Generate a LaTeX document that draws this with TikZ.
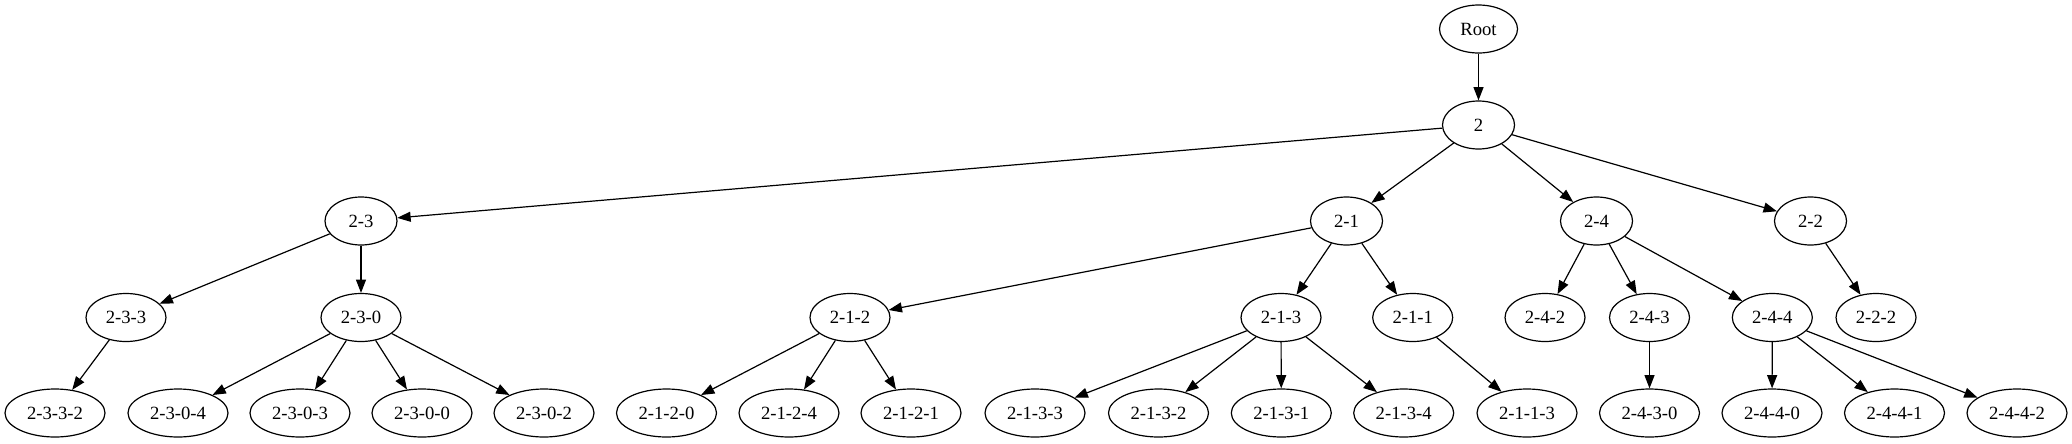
\documentclass[tikz,border=0pt]{standalone}
\usepackage{fontspec}
\setmainfont{Liberation Serif}
\usetikzlibrary{shapes,arrows.meta}
\tikzstyle{vertex}=[ellipse,
                    draw,
                    line width=0.9pt,
                    inner sep=0pt,
                    minimum width=54pt,
                    minimum height=36pt,
                    font=\fontsize{14}{16}\selectfont]
\tikzstyle{inner}=[vertex, minimum width=60pt]
\tikzstyle{leaf}=[vertex, minimum width=75pt]

\begin{document}
\begin{tikzpicture}[x=0.75pt,y=-0.75pt,>={Triangle[length=10pt,width=7.5pt]}]
    \useasboundingbox (0,0) rectangle (2072,443);
    % top of the tree
    \node[vertex, minimum width=58.5pt] (root) at (1478.5,29) {Root};
    \node[vertex] (n2) at (1478.5,125) {2};
    \node[vertex] (n23) at (361,221) {2-3};
    \node[vertex] (n21) at (1346.5,221) {2-1};
    \node[vertex] (n24) at (1596.5,221) {2-4};
    \node[vertex] (n22) at (1810.5,221) {2-2};
    % third level
    \node[inner] (n233) at (126,317.5) {2-3-3};
    \node[inner] (n230) at (361,317.5) {2-3-0};
    \node[inner] (n212) at (850,317.5) {2-1-2};
    \node[inner] (n213) at (1281,317.5) {2-1-3};
    \node[inner] (n211) at (1412.7,317.5) {2-1-1};
    \node[inner] (n242) at (1545,317.5) {2-4-2};
    \node[inner] (n243) at (1649.5,317.5) {2-4-3};
    \node[inner] (n244) at (1772.3,317.5) {2-4-4};
    \node[inner] (n222) at (1876,317.5) {2-2-2};
    % leaves
    \node[leaf] (n2332) at (55,413) {2-3-3-2};
    \node[leaf] (n2304) at (178,413) {2-3-0-4};
    \node[leaf] (n2303) at (300,413) {2-3-0-3};
    \node[leaf] (n2300) at (422,413) {2-3-0-0};
    \node[leaf] (n2302) at (544,413) {2-3-0-2};
    \node[leaf] (n2120) at (666.5,413) {2-1-2-0};
    \node[leaf] (n2124) at (789,413) {2-1-2-4};
    \node[leaf] (n2121) at (911,413) {2-1-2-1};
    \node[leaf] (n2133) at (1035,413) {2-1-3-3};
    \node[leaf] (n2132) at (1158.5,413) {2-1-3-2};
    \node[leaf] (n2131) at (1281.3,413) {2-1-3-1};
    \node[leaf] (n2134) at (1403.7,413) {2-1-3-4};
    \node[leaf] (n2113) at (1527,413) {2-1-1-3};
    \node[leaf] (n2430) at (1649.5,413) {2-4-3-0};
    \node[leaf] (n2440) at (1772,413) {2-4-4-0};
    \node[leaf] (n2441) at (1894.5,413) {2-4-4-1};
    \node[leaf] (n2442) at (2017,413) {2-4-4-2};
    \path[->, line width=0.9pt] (root) edge (n2)
    (n2) edge (n23) (n2) edge (n21) (n2) edge (n24) (n2) edge (n22)
    (n23) edge (n233) (n23) edge (n230)
    (n21) edge (n212) (n21) edge (n213) (n21) edge (n211)
    (n24) edge (n242) (n24) edge (n243) (n24) edge (n244)
    (n22) edge (n222)
    (n233) edge (n2332)
    (n230) edge (n2304) (n230) edge (n2303) (n230) edge (n2300) (n230) edge (n2302)
    (n212) edge (n2120) (n212) edge (n2124) (n212) edge (n2121)
    (n213) edge (n2133) (n213) edge (n2132) (n213) edge (n2131) (n213) edge (n2134)
    (n211) edge (n2113)
    (n243) edge (n2430)
    (n244) edge (n2440) (n244) edge (n2441) (n244) edge (n2442);
\end{tikzpicture}
\end{document}
